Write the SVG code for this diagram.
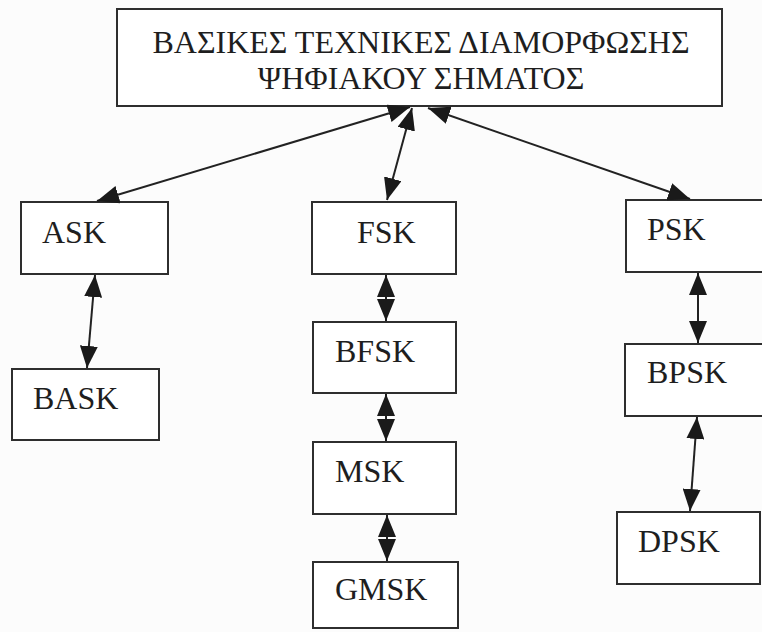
<svg xmlns="http://www.w3.org/2000/svg" width="762" height="632" viewBox="0 0 762 632">
  <style>
    .box { fill: #ffffff; stroke: #2e2e2e; stroke-width: 2; }
    .lbl { font-family: "Liberation Serif", "Times New Roman", serif; font-size: 32px; fill: #1e1e1e; }
    .ttl { font-family: "Liberation Serif", "Times New Roman", serif; font-size: 32px; fill: #1e1e1e; text-anchor: middle; }
    .link { stroke: #222; stroke-width: 2; fill: none; marker-start: url(#head); marker-end: url(#head); }
  </style>
  <defs>
    <!-- filled triangular head shared by both ends of every connector -->
    <marker id="head" viewBox="0 0 22 18" refX="22" refY="9" markerWidth="22" markerHeight="18" markerUnits="userSpaceOnUse" orient="auto-start-reverse">
      <path d="M0,0 L22,9 L0,18 Z" fill="#1a1a1a"/>
    </marker>
  </defs>
  <rect width="762" height="632" fill="#fcfcfc"/>

  <g id="root">
    <rect class="box" x="117" y="9" width="605" height="97"/>
    <text class="ttl" x="421" y="53">ΒΑΣΙΚΕΣ ΤΕΧΝΙΚΕΣ ΔΙΑΜΟΡΦΩΣΗΣ</text>
    <text class="ttl" x="421" y="89">ΨΗΦΙΑΚΟΥ ΣΗΜΑΤΟΣ</text>
  </g>

  <g id="ask"><rect class="box" x="21" y="202" width="147" height="72"/><text class="lbl" x="42" y="243">ASK</text></g>
  <g id="bask"><rect class="box" x="12" y="369" width="147" height="71"/><text class="lbl" x="33" y="409">BASK</text></g>

  <g id="fsk"><rect class="box" x="312" y="202" width="144" height="72"/><text class="lbl" x="357" y="243">FSK</text></g>
  <g id="bfsk"><rect class="box" x="313" y="322" width="143" height="71"/><text class="lbl" x="335" y="362">BFSK</text></g>
  <g id="msk"><rect class="box" x="313" y="442" width="143" height="72"/><text class="lbl" x="335" y="482">MSK</text></g>
  <g id="gmsk"><rect class="box" x="313" y="562" width="145" height="66"/><text class="lbl" x="335" y="600">GMSK</text></g>

  <g id="psk"><rect class="box" x="626" y="200" width="150" height="72"/><text class="lbl" x="647" y="240">PSK</text></g>
  <g id="bpsk"><rect class="box" x="625" y="344" width="150" height="72"/><text class="lbl" x="647" y="383">BPSK</text></g>
  <g id="dpsk"><rect class="box" x="617" y="512" width="143" height="72"/><text class="lbl" x="638" y="552">DPSK</text></g>

  <g id="connectors">
    <line class="link" x1="410" y1="107" x2="97" y2="201"/>
    <line class="link" x1="412" y1="108" x2="387" y2="200"/>
    <line class="link" x1="428" y1="108" x2="690" y2="199"/>
    <line class="link" x1="95" y1="275" x2="87" y2="368"/>
    <line class="link" x1="386" y1="275" x2="386" y2="321"/>
    <line class="link" x1="386" y1="394" x2="386" y2="441"/>
    <line class="link" x1="387" y1="515" x2="387" y2="561"/>
    <line class="link" x1="698" y1="273" x2="698" y2="343"/>
    <line class="link" x1="697" y1="417" x2="690" y2="511"/>
  </g>
</svg>
